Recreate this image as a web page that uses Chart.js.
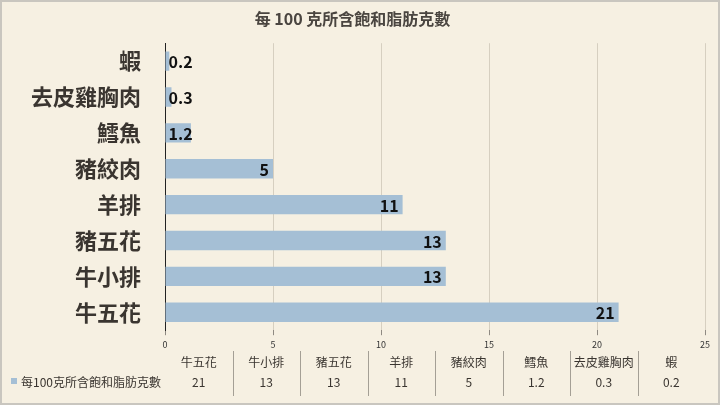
<!DOCTYPE html>
<html>
<head>
<meta charset="utf-8">
<script src="https://cdn.jsdelivr.net/npm/chart.js@4/dist/chart.umd.min.js"></script>
<style>
  html, body { margin: 0; padding: 0; background: #f6f0e2; }
  #wrap { width: 720px; height: 405px; position: relative; }
</style>
</head>
<body>
<div id="wrap"><canvas id="chart"></canvas></div>
<script>
// data
const foods = ["牛五花", "牛小排", "豬五花", "羊排", "豬絞肉", "鱈魚", "去皮雞胸肉", "蝦"];
const satFat = [21, 13, 13, 11, 5, 1.2, 0.3, 0.2];
const xTicks = [0, 5, 10, 15, 20, 25];
const seriesName = "每100克所含飽和脂肪克數";
const titleText = "每 100 克所含飽和脂肪克數";

const barColor = "#a5bfd5";
const cjk = "'Noto Sans CJK TC', 'Noto Sans', sans-serif";

// background + border
const bgPlugin = {
  id: "bg",
  beforeDraw(chart) {
    const ctx = chart.ctx;
    ctx.save();
    ctx.fillStyle = "#f6f0e2";
    ctx.fillRect(0, 0, chart.width, chart.height);
    ctx.strokeStyle = "#c9c6bf";
    ctx.lineWidth = 2;
    ctx.strokeRect(1, 1, chart.width - 2, chart.height - 2);
    ctx.restore();
  }
};

// value labels at bar ends
const labelPlugin = {
  id: "barLabels",
  afterDatasetsDraw(chart) {
    const ctx = chart.ctx;
    const meta = chart.getDatasetMeta(0);
    ctx.save();
    ctx.font = "bold 16px " + cjk;
    ctx.fillStyle = "#111";
    ctx.textBaseline = "middle";
    meta.data.forEach((bar, i) => {
      const txt = String(satFat[i]);
      const w = ctx.measureText(txt).width;
      let x = bar.x - 4 - w;
      if (x < bar.base + 3) x = bar.base + 3;
      ctx.fillText(txt, x, bar.y + 1);
    });
    ctx.restore();
  }
};

// data table under the axis
const tablePlugin = {
  id: "dataTable",
  afterDraw(chart) {
    const ctx = chart.ctx;
    const area = chart.chartArea;
    const colW = (area.right - area.left) / foods.length;
    const rowA = 362, rowB = 382;
    ctx.save();
    ctx.font = "12px " + cjk;
    ctx.fillStyle = "#3a3530";
    ctx.textAlign = "center";
    ctx.textBaseline = "middle";
    foods.forEach((f, i) => {
      const cx = area.left + colW * (i + 0.5);
      ctx.fillText(f, cx, rowA);
      ctx.fillText(String(satFat[i]), cx, rowB);
    });
    ctx.strokeStyle = "#8f8a82";
    ctx.lineWidth = 0.8;
    for (let i = 1; i < foods.length; i++) {
      const x = Math.round(area.left + colW * i) + 0.5;
      ctx.beginPath();
      ctx.moveTo(x, 351);
      ctx.lineTo(x, 396);
      ctx.stroke();
    }
    // legend key
    ctx.fillStyle = barColor;
    ctx.fillRect(11, 378, 6, 6);
    ctx.fillStyle = "#3a3530";
    ctx.textAlign = "left";
    ctx.fillText(seriesName, 21, rowB);
    ctx.restore();
  }
};

const ctx = document.getElementById("chart").getContext("2d");
new Chart(ctx, {
  type: "bar",
  data: {
    labels: foods,
    datasets: [{
      label: seriesName,
      data: satFat,
      backgroundColor: barColor,
      borderWidth: 0,
      barPercentage: 0.9,
      categoryPercentage: 0.6
    }]
  },
  options: {
    indexAxis: "y",
    responsive: true,
    maintainAspectRatio: false,
    animation: false,
    devicePixelRatio: 1,
    layout: { padding: { left: 0, right: 15, top: 0, bottom: 51 } },
    plugins: {
      legend: { display: false },
      tooltip: { enabled: false },
      title: {
        display: true,
        text: titleText,
        color: "#4a4540",
        font: { family: cjk, size: 16, weight: "bold" },
        padding: { top: 9, bottom: 15 }
      }
    },
    scales: {
      x: {
        min: 0,
        max: 25,
        afterBuildTicks(scale) {
          scale.ticks = xTicks.map(v => ({ value: v }));
        },
        grid: {
          color: "#d6cfc0",
          lineWidth: 1,
          tickLength: 5,
          tickColor: "#8f8a82",
          drawOnChartArea: true
        },
        border: { display: false },
        ticks: {
          color: "#333",
          font: { family: cjk, size: 9 },
          padding: 4
        }
      },
      y: {
        reverse: true,
        afterFit(scale) { scale.width = 165; },
        grid: { display: false },
        border: { display: true, color: "#222", width: 1 },
        ticks: {
          color: "#3a3530",
          font: { family: cjk, size: 22, weight: "bold" },
          padding: 16
        }
      }
    }
  },
  plugins: [bgPlugin, labelPlugin, tablePlugin]
});
</script>
</body>
</html>
